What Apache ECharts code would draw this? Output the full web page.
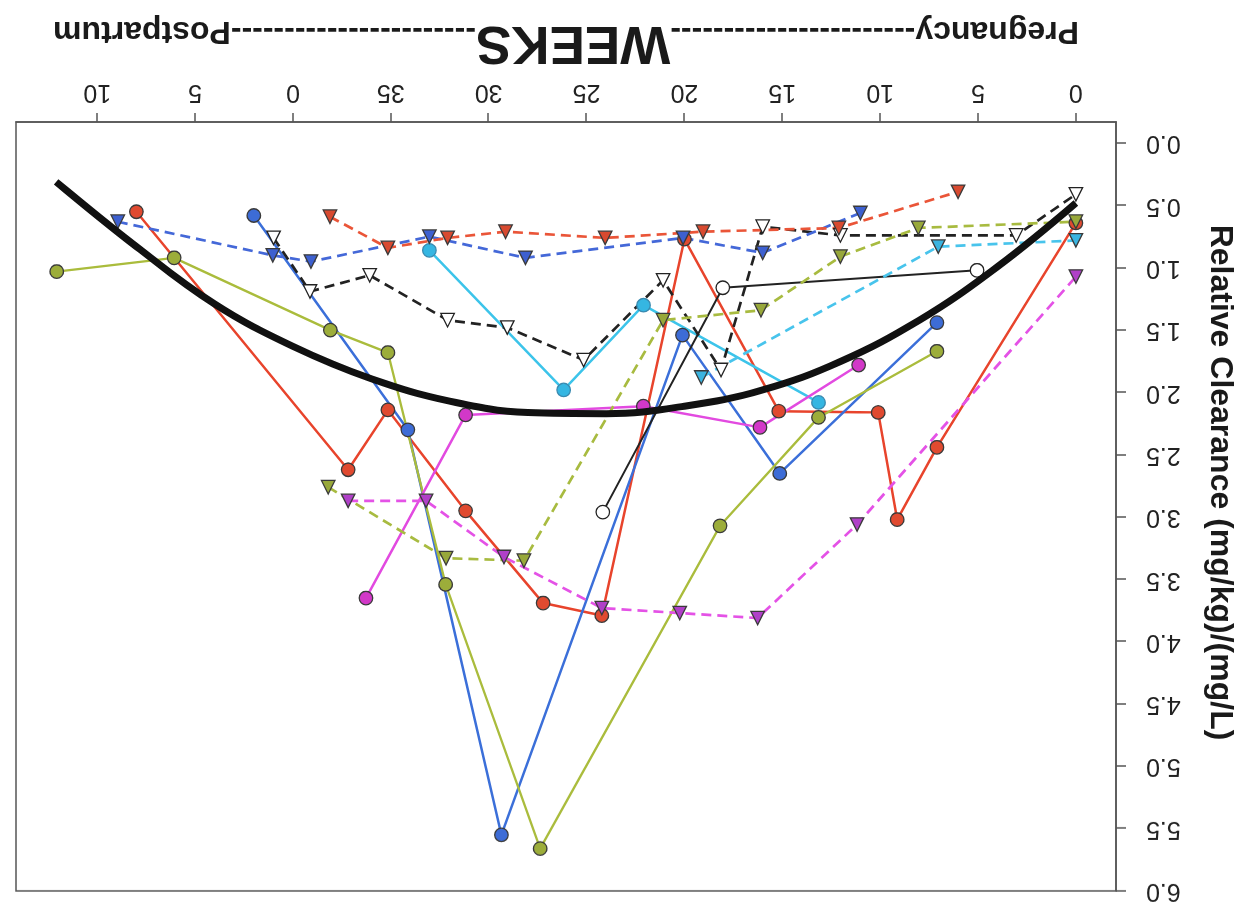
<!DOCTYPE html>
<html>
<head>
<meta charset="utf-8">
<script src="https://cdn.jsdelivr.net/npm/echarts@6/dist/echarts.min.js"></script>
<style>
  html, body { margin: 0; padding: 0; background: #ffffff; }
  #chart { width: 1244px; height: 905px; transform: rotate(180deg); transform-origin: 50% 50%; }
</style>
</head>
<body>
<div id="chart"></div>
<script>
// ---- tick labels ----
const xTickValues = [0, 5, 10, 15, 20, 25, 30, 35, 40, 45, 50];
const xTickLabels = ['0', '5', '10', '15', '20', '25', '30', '35', '0', '5', '10'];
const yTickValues = [0, 0.5, 1, 1.5, 2, 2.5, 3, 3.5, 4, 4.5, 5, 5.5, 6];

// ---- series values: [week (pregnancy 0-40, postpartum = 40 + week), relative clearance] ----
const redCircles = [[48.0, 0.55], [37.18, 2.62], [35.15, 2.14], [31.18, 2.95], [27.22, 3.69], [24.22, 3.79], [20.0, 0.77], [15.18, 2.15], [10.1, 2.16], [9.13, 3.02], [7.1, 2.44], [0, 0.64]];
const blueCircles = [[42.0, 0.58], [34.13, 2.30], [29.35, 5.55], [20.1, 1.54], [15.13, 2.65], [7.1, 1.44]];
const greenCircles = [[52.07, 1.03], [46.07, 0.92], [38.09, 1.50], [35.15, 1.68], [32.2, 3.54], [27.37, 5.66], [18.18, 3.07], [13.15, 2.20], [7.1, 1.67]];
const cyanCircles = [[33.03, 0.86], [26.17, 1.98], [22.09, 1.30], [13.15, 2.08]];
const magentaCircles = [[36.27, 3.65], [31.18, 2.18], [22.1, 2.11], [16.14, 2.28], [11.1, 1.78]];
const blackOpenCircles = [[24.17, 2.96], [18.04, 1.16], [5.05, 1.02]];
const blackOpenTriangles = [[40.99, 0.76], [39.13, 1.19], [36.08, 1.06], [32.1, 1.42], [29.05, 1.48], [25.15, 1.74], [21.09, 1.10], [18.13, 1.82], [16.0, 0.67], [12.03, 0.74], [3.05, 0.74], [0, 0.41]];
const blueTriangles = [[48.95, 0.63], [41.03, 0.90], [39.08, 0.95], [33.03, 0.75], [28.12, 0.92], [20.07, 0.76], [16.0, 0.88], [11.01, 0.56]];
const redTriangles = [[38.11, 0.59], [35.15, 0.84], [32.1, 0.76], [29.14, 0.71], [24.05, 0.76], [19.05, 0.71], [12.11, 0.68], [6.02, 0.39]];
const greenTriangles = [[38.2, 2.76], [32.18, 3.33], [28.2, 3.35], [21.09, 1.42], [16.09, 1.34], [12.03, 0.91], [8.05, 0.68], [0, 0.63]];
const magentaTriangles = [[37.18, 2.87], [33.2, 2.87], [29.22, 3.32], [24.22, 3.73], [20.24, 3.77], [16.26, 3.81], [11.18, 3.06], [0, 1.07]];
const cyanTriangles = [[19.14, 1.88], [7.03, 0.83], [0, 0.78]];
// thick fitted curve, every 4 weeks
const fittedCurve = [[0, 0.48], [4, 0.99], [8, 1.42], [12, 1.75], [16, 1.98], [20, 2.11], [24, 2.17], [28, 2.16], [32, 2.07], [36, 1.89], [40, 1.63], [44, 1.29], [48, 0.83], [52.1, 0.31]];

const FONT = '"Liberation Sans", Arial, Helvetica, sans-serif';

function solid(data, lineColor, fill, border, width) {
  return {
    type: 'line', data: data, symbol: 'circle', symbolSize: 13.5,
    lineStyle: { color: lineColor, width: width || 2.5, type: 'solid' },
    itemStyle: { color: fill, borderColor: border || '#3a3a3a', borderWidth: 1.3 },
    emphasis: { disabled: true }, z: 3
  };
}
function dashed(data, lineColor, fill, border) {
  return {
    type: 'line', data: data, symbol: 'triangle', symbolSize: 13.5,
    lineStyle: { color: lineColor, width: 2.7, type: [10, 6] },
    itemStyle: { color: fill, borderColor: border || '#3a3a3a', borderWidth: 1.3 },
    emphasis: { disabled: true }, z: 3
  };
}

const chart = echarts.init(document.getElementById('chart'), null, { renderer: 'canvas' });
chart.setOption({
  animation: false,
  backgroundColor: '#ffffff',
  grid: { left: 122, right: 16, top: 14, bottom: 122, show: true, borderColor: '#555', borderWidth: 1.5 },
  xAxis: {
    type: 'value', min: -2.05, max: 54.15,
    axisLine: { show: true, onZero: false, lineStyle: { color: '#555', width: 1.5 } },
    axisTick: { show: true, length: 9, customValues: xTickValues, lineStyle: { color: '#555', width: 1.5 } },
    axisLabel: {
      customValues: xTickValues, fontSize: 25, color: '#222', margin: 18, fontFamily: FONT,
      formatter: function (v) { const i = xTickValues.indexOf(Math.round(v)); return i >= 0 ? xTickLabels[i] : ''; }
    },
    splitLine: { show: false },
    name: '{a|Pregnancy}{d|-----------------------}{b|WEEKS}{d|-----------------------}{a|Postpartum}',
    nameLocation: 'middle', nameGap: 54,
    nameTextStyle: {
      rich: {
        a: { fontSize: 32, fontWeight: 'bold', color: '#1a1a1a', fontFamily: FONT, verticalAlign: 'bottom' },
        b: { fontSize: 53, fontWeight: 'bold', color: '#1a1a1a', fontFamily: FONT, verticalAlign: 'bottom' },
        d: { fontSize: 32, fontWeight: 'bold', color: '#1a1a1a', fontFamily: FONT, verticalAlign: 'bottom' }
      }
    }
  },
  yAxis: {
    type: 'value', min: -0.17, max: 6,
    axisLine: { show: true, onZero: false, lineStyle: { color: '#555', width: 1.5 } },
    axisTick: { show: true, length: 10, customValues: yTickValues, lineStyle: { color: '#555', width: 1.5 } },
    axisLabel: {
      customValues: yTickValues, fontSize: 25, color: '#222', margin: 30, fontFamily: FONT,
      formatter: function (v) { return v.toFixed(1); }
    },
    splitLine: { show: false },
    name: 'Relative Clearance (mg/kg)/(mg/L)',
    nameLocation: 'middle', nameGap: 88, nameRotate: 90,
    nameTextStyle: { fontSize: 32, fontWeight: 'bold', color: '#1a1a1a', fontFamily: FONT, padding: [0, 48, 0, 0] }
  },
  series: [
    solid(redCircles, '#e8442c', '#e04a30'),
    solid(blueCircles, '#3b6fd9', '#3d6cd6'),
    solid(greenCircles, '#aabc3c', '#9cad3a', '#3a3a3a', 2.3),
    solid(cyanCircles, '#3cc4ea', '#35b6e2', '#3a8ab0'),
    solid(magentaCircles, '#e24ae0', '#d238c8'),
    solid(blackOpenCircles, '#222222', '#ffffff', '#222222', 2),
    dashed(blackOpenTriangles, '#222222', '#ffffff', '#222222'),
    dashed(blueTriangles, '#4468d8', '#3d60d0'),
    dashed(redTriangles, '#ea5538', '#d84a30'),
    dashed(greenTriangles, '#a8bb40', '#98a83a'),
    dashed(magentaTriangles, '#e452e6', '#b040c8'),
    dashed(cyanTriangles, '#48c4ec', '#3ab4e0'),
    {
      type: 'line', data: fittedCurve, smooth: 0.4, symbol: 'none',
      lineStyle: { color: '#111111', width: 7 }, emphasis: { disabled: true }, z: 5
    }
  ]
});
</script>
</body>
</html>
